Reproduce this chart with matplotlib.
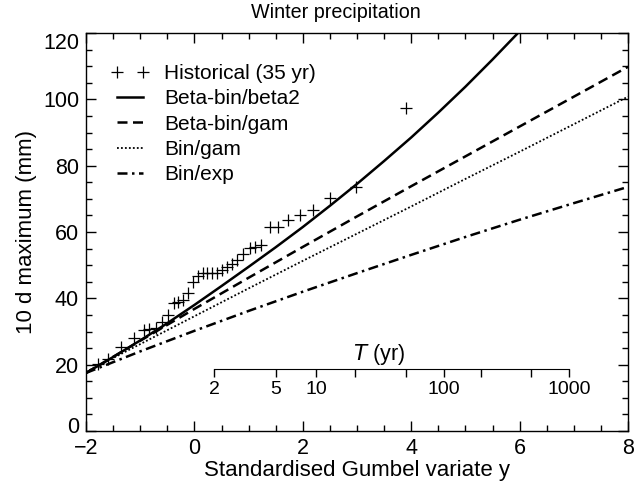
import numpy as np
import matplotlib.pyplot as plt
from matplotlib.ticker import MultipleLocator
from matplotlib.transforms import ScaledTranslation

plt.rcParams['font.family'] = ['Liberation Sans', 'DejaVu Sans']

# Historical (35 yr): Gumbel variate and 10 d maximum (mm)
hist_y = [-1.78, -1.60, -1.36, -1.11, -0.93, -0.83, -0.71, -0.59, -0.49, -0.37,
          -0.30, -0.21, -0.12, -0.03, 0.06, 0.15, 0.24, 0.33, 0.42, 0.51,
          0.60, 0.69, 0.78, 0.90, 1.02, 1.12, 1.23, 1.39, 1.55, 1.72,
          1.94, 2.18, 2.51, 2.99, 3.91]
hist_max = [20.2, 21.7, 25.4, 27.9, 30.4, 30.7, 31.0, 33.0, 35.0, 38.7,
            39.0, 39.5, 41.5, 45.0, 46.7, 47.5, 47.5, 47.5, 47.5, 48.5,
            49.5, 50.5, 51.5, 53.3, 55.1, 55.6, 56.1, 61.4, 61.4, 63.6,
            65.1, 66.6, 70.2, 73.5, 97.3]

# model curves read at half-unit steps of the Gumbel variate
grid = [-2.0, -1.5, -1.0, -0.5, 0.0, 0.5, 1.0, 1.5, 2.0, 2.5, 3.0, 3.5, 4.0,
        4.5, 5.0, 5.5, 6.0, 6.5]
betabin_beta2 = [17.5, 22.3, 27.3, 32.5, 38.0, 43.7, 49.5, 55.4, 61.5, 67.9,
                 74.5, 81.4, 88.5, 96.0, 103.8, 112.0, 120.5, 129.0]

grid_lin = [-2, -1, 0, 1, 2, 3, 4, 5, 6, 7, 8]
betabin_gam = [17.5, 27.2, 36.8, 46.2, 55.5, 64.7, 73.8, 82.8, 91.8, 100.8, 109.8]
bin_gam = [17.8, 26.2, 34.6, 43.0, 51.3, 59.5, 67.7, 76.0, 84.2, 92.5, 100.8]
bin_exp = [17.5, 24.0, 30.2, 36.2, 42.0, 47.6, 53.1, 58.5, 63.7, 68.7, 73.6]

# return periods for the inset axis
T_vals = [2, 5, 10, 20, 50, 100, 200, 500, 1000]
T_labels = ['2', '5', '10', '', '', '100', '', '', '1000']

fig = plt.figure(figsize=(6.39, 4.87), dpi=100)
ax = fig.add_axes([86/639, 1-431/487, 542/639, 398/487])

ax.plot(hist_y, hist_max, '+', color='black', ms=8, mew=0.9,
        label='Historical (35 yr)')
ax.plot(grid, betabin_beta2, '-', color='black', lw=1.8, label='Beta-bin/beta2')
ax.plot(grid_lin, betabin_gam, '--', color='black', lw=1.8, dashes=(4, 2.2),
        label='Beta-bin/gam')
ax.plot(grid_lin, bin_gam, ':', color='black', lw=1.3, dashes=(1, 1.2),
        label='Bin/gam')
ax.plot(grid_lin, bin_exp, '-.', color='black', lw=1.8, dashes=(4, 1.8, 1, 1.8),
        label='Bin/exp')

ax.set_xlim(-2, 8)
ax.set_ylim(0, 120)
ax.set_xticks(range(-2, 9, 2))
ax.set_yticks(range(0, 121, 20))
ax.xaxis.set_minor_locator(MultipleLocator(0.5))
ax.yaxis.set_minor_locator(MultipleLocator(5))
ax.tick_params(which='both', direction='in', top=True, right=True, labelsize=15.5)
ax.tick_params(which='major', length=7, width=1)
ax.tick_params(which='minor', length=4, width=1)
ax.tick_params(axis='x', pad=5)
ax.tick_params(axis='y', pad=5)
for s in ax.spines.values():
    s.set_linewidth(1)

# end labels on the y axis sit a little inside, as in the original
yt = ax.yaxis.get_major_ticks()
yt[0].label1.set_transform(yt[0].label1.get_transform()
                           + ScaledTranslation(0, 0.06, fig.dpi_scale_trans))
yt[-1].label1.set_transform(yt[-1].label1.get_transform()
                            + ScaledTranslation(0, -0.08, fig.dpi_scale_trans))

ax.set_xlabel('Standardised Gumbel variate y', fontsize=16, labelpad=1)
ax.set_ylabel('10 d maximum (mm)', fontsize=16, labelpad=4)
fig.text(336/639, 1-12/487, 'Winter precipitation', ha='center', va='center',
         fontsize=14.2)

leg = ax.legend(loc='upper left', bbox_to_anchor=(0.046, 0.922), frameon=False,
                fontsize=15, numpoints=2, handlelength=1.85, handletextpad=0.7,
                labelspacing=0.3, borderpad=0, borderaxespad=0)

# return period axis inside the plot
gT = [-np.log(-np.log(1 - 1/t)) for t in T_vals]
ins = ax.inset_axes([gT[0], 18.7, gT[-1] - gT[0], 6], transform=ax.transData)
ins.set_xlim(gT[0], gT[-1])
ins.patch.set_visible(False)
for k in ['top', 'left', 'right']:
    ins.spines[k].set_visible(False)
ins.set_yticks([])
ins.set_xticks(gT)
ins.set_xticklabels(T_labels)
ins.tick_params(axis='x', direction='out', length=6, width=1, labelsize=14, pad=3)
ax.text(3.4, 23.0, r'$T$ (yr)', ha='center', va='center', fontsize=15.5)

fig.savefig('out.png', dpi=100)
